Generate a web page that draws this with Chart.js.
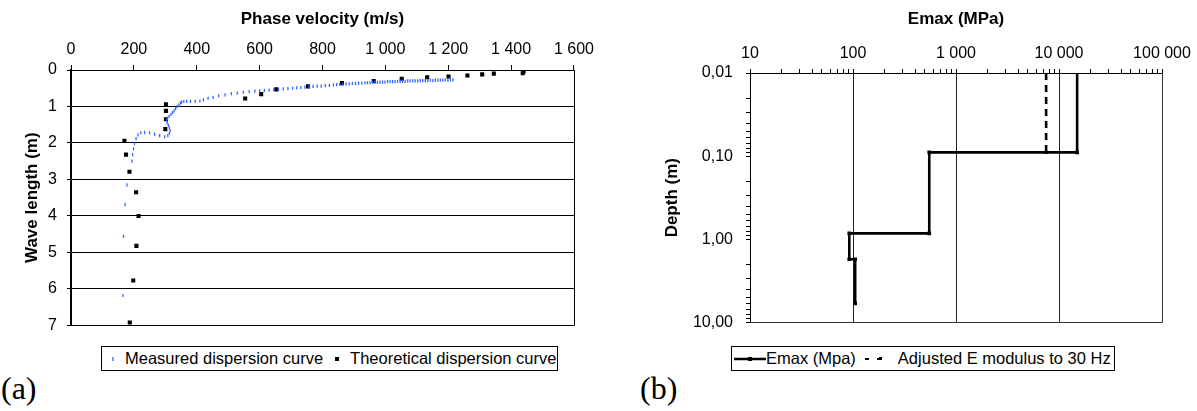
<!DOCTYPE html>
<html>
<head>
<meta charset="utf-8">
<script src="https://cdn.jsdelivr.net/npm/chart.js@4.4.1/dist/chart.umd.min.js"></script>
<style>
  body { margin: 0; background: #fff; width: 1197px; height: 411px; position: relative; overflow: hidden;
         font-family: 'Liberation Sans', Arial, sans-serif; color: #000; }
  canvas { position: absolute; top: 0; }
  .legend { position: absolute; top: 346px; height: 25px; box-sizing: border-box; border: 1px solid #000;
            display: flex; align-items: center; font-size: 16.5px; white-space: nowrap; }
  .legend svg { display: block; }
  .tag { position: absolute; top: 372px; line-height: 1; font-family: 'Liberation Serif', 'Times New Roman', serif; font-size: 32px; }
</style>
</head>
<body>
<canvas id="dispersion" width="600" height="345" style="left:0"></canvas>
<canvas id="modulus" width="597" height="345" style="left:600px"></canvas>

<div class="legend" style="left:101px; width:457px;">
  <svg width="20" height="12" style="margin-left:7px"><line x1="4" y1="4" x2="4" y2="8" stroke="#3366ff" stroke-width="1.3"/></svg>
  <span style="margin-left:-4px">Measured dispersion curve</span>
  <svg width="18" height="12" style="margin-left:10px"><rect x="2" y="4" width="4" height="4" fill="#000"/></svg>
  <span style="margin-left:-1px">Theoretical dispersion curve</span>
</div>
<div class="legend" style="left:731px; width:384px;">
  <svg width="33" height="12" style="margin-left:1px"><line x1="1" y1="6" x2="33" y2="6" stroke="#000" stroke-width="2.5"/><rect x="15" y="4" width="4" height="4" fill="#000"/></svg>
  <span>Emax (Mpa)</span>
  <svg width="28" height="12" style="margin-left:8px"><line x1="1" y1="6" x2="24" y2="6" stroke="#000" stroke-width="2" stroke-dasharray="4 8"/><rect x="15" y="4" width="3" height="3" fill="#000"/></svg>
  <span style="margin-left:6px">Adjusted E modulus to 30 Hz</span>
</div>
<div class="tag" style="left:1px">(a)</div>
<div class="tag" style="left:640px">(b)</div>

<script>
// (a) dispersion curves: phase velocity (m/s) against wave length (m)
const measuredVelocity = [
  1215, 1207, 1199, 1191, 1183, 1175, 1167, 1159, 1151, 1143, 1135, 1127, 1119, 1111, 1103, 1095,
  1087, 1079, 1071, 1063, 1055, 1047, 1039, 1031, 1023, 1015, 1007, 999, 991, 983, 975, 967, 959,
  951, 943, 935, 925, 915, 905, 895, 885, 875, 865, 855, 845, 835, 822, 809, 796, 783, 770, 757,
  744, 731, 718, 705, 690, 675, 660, 645, 630, 615, 600, 585, 567, 548, 529, 510, 490, 470, 452,
  436, 421, 410, 395, 380, 368, 359, 352, 348, 343, 338, 333, 328, 323, 318, 312, 307, 304, 306,
  310, 313, 315, 313, 308, 298, 282, 266, 250, 234, 222, 213, 207, 202, 199, 196, 194, 178, 172,
  167, 165
];
const measuredWavelength = [
  0.27, 0.27, 0.28, 0.27, 0.28, 0.28, 0.28, 0.28, 0.29, 0.28, 0.29, 0.29, 0.29, 0.29, 0.30, 0.30,
  0.30, 0.30, 0.30, 0.31, 0.31, 0.31, 0.31, 0.32, 0.32, 0.32, 0.32, 0.33, 0.33, 0.33, 0.34, 0.34, 0.34,
  0.35, 0.35, 0.35, 0.36, 0.36, 0.37, 0.37, 0.38, 0.38, 0.39, 0.39, 0.40, 0.41, 0.42, 0.43, 0.44, 0.44, 0.45, 0.46,
  0.47, 0.48, 0.49, 0.50, 0.51, 0.52, 0.53, 0.54, 0.55, 0.56, 0.57, 0.58, 0.59, 0.61, 0.63, 0.65, 0.68, 0.71, 0.75,
  0.78, 0.82, 0.85, 0.86, 0.86, 0.86, 0.86, 0.88, 0.91, 0.96, 1.00, 1.06, 1.12, 1.17, 1.22, 1.27, 1.32, 1.38, 1.45,
  1.52, 1.59, 1.66, 1.74, 1.80, 1.83, 1.80, 1.76, 1.72, 1.71, 1.72, 1.78, 1.88, 2.02, 2.16, 2.32, 2.50, 3.15, 3.69,
  4.56, 6.18
];
const theoreticalVelocity = [1440, 1437, 1345, 1308, 1261, 1201, 1133, 1052, 963, 862, 754, 653, 605, 554,
  302, 302, 302, 300, 170, 175, 186, 207, 215, 208, 198, 187];
const theoreticalWavelength = [0.04, 0.09, 0.10, 0.12, 0.15, 0.18, 0.20, 0.24, 0.30, 0.36, 0.45, 0.53, 0.66, 0.78,
  0.94, 1.12, 1.35, 1.62, 1.94, 2.32, 2.79, 3.35, 4.00, 4.82, 5.77, 6.92];
const velocityTicks = [0, 200, 400, 600, 800, 1000, 1200, 1400, 1600];
const wavelengthTicks = [0, 1, 2, 3, 4, 5, 6, 7];

// (b) Emax profile against depth
const emaxModulus = [15000, 15000, 550, 550, 92, 92, 105, 105];
const emaxDepth = [0.01, 0.09, 0.09, 0.85, 0.85, 1.74, 1.74, 5.9];
const adjustedModulus = [7500, 7500];
const adjustedDepth = [0.01, 0.09];
const modulusTicks = [10, 100, 1000, 10000, 100000];
const depthTicks = [0.01, 0.1, 1, 10];

const FONT = "'Liberation Sans', Arial, sans-serif";
const tickFont = { family: FONT, size: 16 };
const titleFont = { family: FONT, size: 17, weight: 'bold' };

const spaced = v => String(Math.round(v)).replace(/\B(?=(\d{3})+(?!\d))/g, ' ');
const pairs = (xs, ys) => xs.map((x, i) => ({ x, y: ys[i] }));
const isDecade = v => Math.abs(Math.log10(v) - Math.round(Math.log10(v))) < 1e-6;

// decades plus the 2..9 minor marks between them
function withMinor(decades) {
  const out = [];
  decades.forEach((d, i) => {
    out.push(d);
    if (i < decades.length - 1) {
      for (let m = 2; m <= 9; m++) out.push(+(d * m).toPrecision(6));
    }
  });
  return out;
}
const setTicks = values => scale => { scale.ticks = values.map(value => ({ value })); };

// right and bottom edges of the plot box
const plotFrame = {
  id: 'plotFrame',
  beforeDatasetsDraw(chart, args, opts) {
    const { ctx, chartArea: a } = chart;
    const r = Math.round(a.right) + 0.5, b = Math.round(a.bottom) + 0.5;
    ctx.save();
    ctx.strokeStyle = opts.color || '#000';
    ctx.lineWidth = 1;
    ctx.beginPath();
    ctx.moveTo(r, a.top);
    ctx.lineTo(r, b);
    ctx.lineTo(a.left, b);
    ctx.stroke();
    ctx.restore();
  }
};

new Chart(document.getElementById('dispersion'), {
  type: 'scatter',
  data: {
    datasets: [
      {
        label: 'Measured dispersion curve',
        data: pairs(measuredVelocity, measuredWavelength),
        pointStyle: 'line',
        rotation: 90,
        pointRadius: 1.6,
        borderColor: '#3366ff',
        borderWidth: 1.3
      },
      {
        label: 'Theoretical dispersion curve',
        data: pairs(theoreticalVelocity, theoreticalWavelength),
        pointStyle: 'rect',
        pointRadius: 2.9,
        backgroundColor: '#000',
        borderWidth: 0
      }
    ]
  },
  options: {
    responsive: false,
    animation: false,
    devicePixelRatio: 1,
    layout: { padding: { left: 0, top: 0, right: 12, bottom: 19 } },
    plugins: { legend: { display: false }, tooltip: { enabled: false }, plotFrame: { color: '#000' } },
    scales: {
      x: {
        type: 'linear', position: 'top', min: 0, max: 1600,
        afterBuildTicks: setTicks(velocityTicks),
        afterFit: s => { s.height = 70; },
        ticks: { font: tickFont, color: '#000', padding: 6, maxRotation: 0, autoSkip: false, callback: v => spaced(v) },
        grid: { drawOnChartArea: false, tickLength: 5, color: '#000' },
        border: { color: '#000', width: 1 },
        title: { display: true, text: 'Phase velocity (m/s)', font: titleFont, color: '#000', padding: { top: 9, bottom: 0 } }
      },
      y: {
        type: 'linear', reverse: true, min: 0, max: 7,
        afterBuildTicks: setTicks(wavelengthTicks),
        afterFit: s => { s.width = 71; },
        ticks: { font: tickFont, color: '#000', padding: 10, autoSkip: false },
        grid: { color: '#000', lineWidth: 1, tickLength: 4 },
        border: { color: '#000', width: 2 },
        title: { display: true, text: 'Wave length (m)', font: titleFont, color: '#000', padding: { top: 22, bottom: 0 } }
      }
    }
  },
  plugins: [plotFrame]
});

new Chart(document.getElementById('modulus'), {
  type: 'scatter',
  data: {
    datasets: [
      {
        label: 'Emax (Mpa)',
        data: pairs(emaxModulus, emaxDepth),
        showLine: true,
        borderColor: '#000',
        borderWidth: 2.6,
        pointStyle: 'rect',
        pointRadius: emaxModulus.map((_, i) => (i === 0 ? 0 : 2.6)),
        pointBackgroundColor: '#000',
        pointBorderWidth: 0
      },
      {
        label: 'Adjusted E modulus to 30 Hz',
        data: pairs(adjustedModulus, adjustedDepth),
        showLine: true,
        borderColor: '#000',
        borderWidth: 2.6,
        borderDash: [7, 5],
        pointStyle: 'rect',
        pointRadius: adjustedModulus.map((_, i) => (i === 0 ? 0 : 2.3)),
        pointBackgroundColor: '#000',
        pointBorderWidth: 0
      }
    ]
  },
  options: {
    responsive: false,
    animation: false,
    devicePixelRatio: 1,
    layout: { padding: { left: 0, top: 0, right: 35, bottom: 22 } },
    plugins: { legend: { display: false }, tooltip: { enabled: false }, plotFrame: { color: '#333' } },
    scales: {
      x: {
        type: 'logarithmic', position: 'top', min: 10, max: 100000,
        afterBuildTicks: setTicks(withMinor(modulusTicks)),
        afterFit: s => { s.height = 73; },
        ticks: { font: tickFont, color: '#000', padding: 6, maxRotation: 0, autoSkip: false,
                 callback: v => (isDecade(v) ? spaced(v) : '') },
        grid: { color: c => (c.tick && isDecade(c.tick.value) ? '#222' : 'rgba(0,0,0,0)'),
                tickColor: '#000', tickLength: 4, lineWidth: 1 },
        border: { color: '#000', width: 1 },
        title: { display: true, text: 'Emax (MPa)', font: titleFont, color: '#000', padding: { top: 9, bottom: 0 } }
      },
      y: {
        type: 'logarithmic', reverse: true, min: 0.01, max: 10,
        afterBuildTicks: setTicks(withMinor(depthTicks)),
        afterFit: s => { s.width = 150; },
        ticks: { font: tickFont, color: '#000', padding: 13, autoSkip: false,
                 callback: v => (isDecade(v) ? v.toFixed(2).replace('.', ',') : '') },
        grid: { drawOnChartArea: false, tickColor: '#000', tickLength: 4 },
        border: { color: '#000', width: 1 },
        title: { display: true, text: 'Depth (m)', font: titleFont, color: '#000', padding: { top: 62, bottom: 0 } }
      }
    }
  },
  plugins: [plotFrame]
});
</script>
</body>
</html>
